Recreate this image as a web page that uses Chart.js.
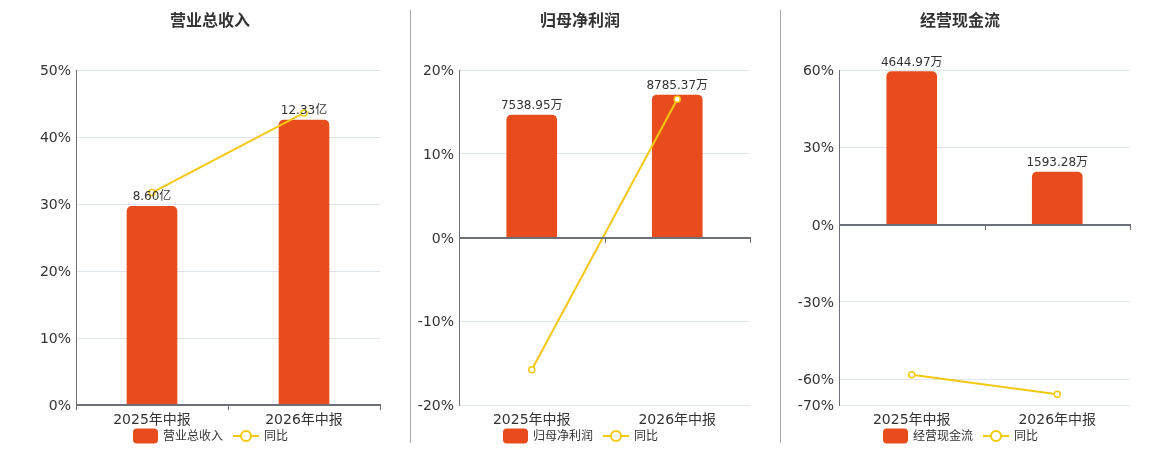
<!DOCTYPE html>
<html>
<head>
<meta charset="utf-8">
<script src="https://cdn.jsdelivr.net/npm/chart.js@4/dist/chart.umd.min.js"></script>
<style>
  html, body { margin:0; padding:0; background:#fff; }
  #wrap { position:relative; width:1160px; height:450px; overflow:hidden; }
  canvas { position:absolute; top:0; }
  .sep { position:absolute; top:10px; width:1px; height:433px; background:#aaaaaa; }
</style>
</head>
<body>
<div id="wrap">
  <canvas id="c1" width="400" height="450" style="left:0px"></canvas>
  <canvas id="c2" width="369" height="450" style="left:411px"></canvas>
  <canvas id="c3" width="379" height="450" style="left:781px"></canvas>
  <div class="sep" style="left:410px"></div>
  <div class="sep" style="left:780px"></div>
</div>
<script>
// ---- data ----
const categories = ['2025年中报', '2026年中报'];

const revenueValues = [8.60, 12.33];
const revenueLabels = ['8.60亿', '12.33亿'];
const revenueYoY = [31.7, 43.6];
const revenueTicks = [0, 10, 20, 30, 40, 50];

const profitValues = [7538.95, 8785.37];
const profitLabels = ['7538.95万', '8785.37万'];
const profitYoY = [-15.8, 16.5];
const profitTicks = [-20, -10, 0, 10, 20];

const cashValues = [4644.97, 1593.28];
const cashLabels = ['4644.97万', '1593.28万'];
const cashYoY = [-58.3, -65.8];
const cashTicks = [-70, -60, -30, 0, 30, 60];

const titles = ['营业总收入', '归母净利润', '经营现金流'];
const yoyName = '同比';

// ---- style ----
const FONT = '"DejaVu Sans", "Noto Sans CJK SC", sans-serif';
const BAR_COLOR = '#e84c1d';
const LINE_COLOR = '#f2c811';
const TEXT = '#333333';
const AXIS = '#6e7079';
const GRID = '#e0e6f1';

Chart.defaults.font.family = FONT;
Chart.defaults.color = TEXT;

const decor = {
  id: 'decor',
  afterDatasetsDraw(chart, args, o) {
    const ctx = chart.ctx;
    const { left, right } = chart.chartArea;
    const y = Math.round(chart.scales.y.getPixelForValue(0));
    ctx.save();
    // zero axis line
    ctx.strokeStyle = AXIS;
    ctx.lineWidth = 2;
    ctx.beginPath(); ctx.moveTo(left, y); ctx.lineTo(right + 1, y); ctx.stroke();
    ctx.lineWidth = 1;
    const mid = (left + right) / 2;
    [left, mid, right].forEach(x => {
      const xx = Math.round(x) + 0.5;
      ctx.beginPath(); ctx.moveTo(xx, y); ctx.lineTo(xx, y + 5); ctx.stroke();
    });
    // bar labels
    const meta = chart.getDatasetMeta(1);
    ctx.fillStyle = TEXT;
    ctx.font = '12px ' + FONT;
    ctx.textAlign = 'center';
    ctx.textBaseline = 'bottom';
    meta.data.forEach((el, i) => {
      ctx.fillText(o.labels[i], el.x, el.y - 3);
    });
    ctx.restore();
  },
  afterDraw(chart, args, o) {
    const ctx = chart.ctx;
    ctx.save();
    // title
    ctx.fillStyle = TEXT;
    ctx.font = 'bold 16px ' + FONT;
    ctx.textAlign = 'center';
    ctx.textBaseline = 'middle';
    ctx.fillText(o.title, o.center, 22);
    // legend
    const S = o.center - 77;
    const ly = 436;
    ctx.fillStyle = BAR_COLOR;
    ctx.beginPath();
    if (ctx.roundRect) ctx.roundRect(S, ly - 7.5, 25, 15, 4); else ctx.rect(S, ly - 7.5, 25, 15);
    ctx.fill();
    ctx.fillStyle = TEXT;
    ctx.font = '12px ' + FONT;
    ctx.textAlign = 'left';
    ctx.fillText(o.legendName, S + 30, ly + 1);
    ctx.strokeStyle = LINE_COLOR;
    ctx.lineWidth = 2;
    ctx.beginPath(); ctx.moveTo(S + 100, ly); ctx.lineTo(S + 126, ly); ctx.stroke();
    ctx.beginPath(); ctx.arc(S + 113, ly, 5, 0, Math.PI * 2);
    ctx.fillStyle = '#fff'; ctx.fill(); ctx.stroke();
    ctx.fillStyle = TEXT;
    ctx.fillText(yoyName, S + 131, ly + 1);
    ctx.restore();
  }
};

function makeChart(id, p) {
  return new Chart(document.getElementById(id), {
    type: 'bar',
    data: {
      labels: categories,
      datasets: [
        {
          type: 'line',
          label: yoyName,
          data: p.yoy,
          yAxisID: 'y',
          borderColor: LINE_COLOR,
          borderWidth: 2,
          pointRadius: 3,
          pointBorderWidth: 1.5,
          pointBackgroundColor: '#ffffff',
          pointBorderColor: LINE_COLOR,
          tension: 0,
          order: 0
        },
        {
          type: 'bar',
          label: p.title,
          data: p.bars,
          yAxisID: 'yb',
          backgroundColor: BAR_COLOR,
          barThickness: 50,
          borderRadius: 5,
          borderSkipped: 'start',
          order: 1
        }
      ]
    },
    options: {
      responsive: false,
      animation: false,
      devicePixelRatio: 1,
      layout: { padding: { top: 70, right: p.padRight, left: 0, bottom: 0 } },
      plugins: {
        legend: { display: false },
        title: { display: false },
        tooltip: { enabled: false },
        decor: { labels: p.labels, title: p.title, legendName: p.title, center: p.center }
      },
      scales: {
        x: {
          offset: true,
          grid: { display: false, drawTicks: false },
          border: { display: false },
          ticks: { font: { size: 14 }, color: TEXT, padding: 7, maxRotation: 0 },
          afterFit: s => { s.height = 45; }
        },
        y: {
          position: 'left',
          min: p.ticks[0],
          max: p.ticks[p.ticks.length - 1],
          afterBuildTicks: s => { s.ticks = p.ticks.map(v => ({ value: v })); },
          grid: { color: GRID, drawTicks: false, lineWidth: 1 },
          border: { display: true, color: AXIS, width: 1 },
          ticks: { font: { size: 14 }, color: TEXT, padding: 5, labelOffset: 1.5, callback: v => v + '%' },
          afterFit: s => { s.width = p.yWidth; }
        },
        yb: {
          display: false,
          min: p.barMin,
          max: p.barMax
        }
      }
    },
    plugins: [decor]
  });
}

makeChart('c1', {
  title: titles[0], bars: revenueValues, labels: revenueLabels, yoy: revenueYoY,
  ticks: revenueTicks, barMin: 0, barMax: 14.5, yWidth: 76, padRight: 20, center: 210
});
makeChart('c2', {
  title: titles[1], bars: profitValues, labels: profitLabels, yoy: profitYoY,
  ticks: profitTicks, barMin: -10324, barMax: 10324, yWidth: 48, padRight: 30, center: 169
});
makeChart('c3', {
  title: titles[2], bars: cashValues, labels: cashLabels, yoy: cashYoY,
  ticks: cashTicks, barMin: -5474, barMax: 4692, yWidth: 58, padRight: 30, center: 179
});
</script>
</body>
</html>
